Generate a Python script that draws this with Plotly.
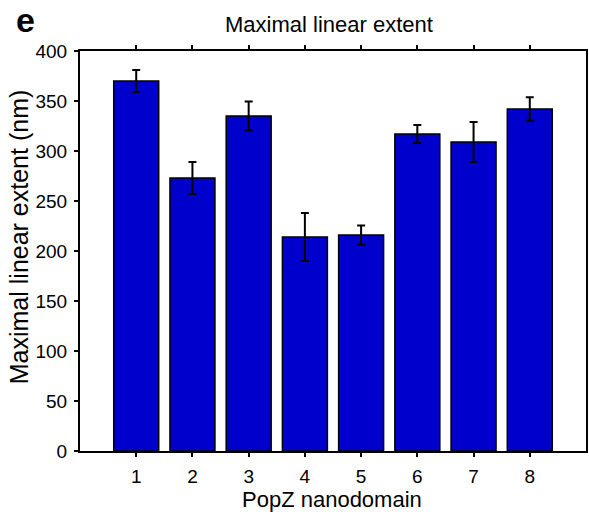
import plotly.graph_objects as go

categories = [1, 2, 3, 4, 5, 6, 7, 8]
values = [370, 273, 335, 214, 216, 317, 309, 342]
errors = [11, 16, 14.5, 24, 9.5, 9, 20, 11.7]
y_ticks = [0, 50, 100, 150, 200, 250, 300, 350, 400]

W, H = 589, 512
L, R, T, B = 80, 1, 51, 61
pw, ph = W - L - R, H - T - B

font = "Liberation Sans, Arial, sans-serif"
TICK = 19
LAB = 22


def px_x(p):
    return (p - L) / pw


def px_y(p):
    return (T + ph - p) / ph


fig = go.Figure()
fig.add_trace(go.Bar(
    x=categories, y=values, width=0.8,
    marker=dict(color="#0000CD", line=dict(color="black", width=1.5)),
    error_y=dict(type="data", array=errors, visible=True,
                 color="black", thickness=2, width=4),
    hoverinfo="skip",
))

fig.update_layout(
    width=W, height=H,
    margin=dict(l=L, r=R, t=T, b=B),
    plot_bgcolor="white", paper_bgcolor="white",
    showlegend=False,
    font=dict(family=font, size=TICK, color="black"),
)
fig.update_xaxes(
    range=[0, 9], tickmode="array", tickvals=categories,
    ticktext=[str(c) for c in categories],
    showline=True, linecolor="black", linewidth=2, mirror="ticks",
    ticks="outside", ticklen=4, tickwidth=2, tickcolor="black",
    ticklabelstandoff=3,
    showgrid=False, zeroline=False,
    tickfont=dict(family=font, size=TICK, color="black"),
)
fig.update_yaxes(
    range=[0, 400], tickmode="array", tickvals=y_ticks,
    ticktext=[str(v) for v in y_ticks],
    showline=True, linecolor="black", linewidth=2, mirror=True,
    ticks="outside", ticklen=4, tickwidth=2, tickcolor="black",
    ticklabelstandoff=3,
    showgrid=False, zeroline=False,
    tickfont=dict(family=font, size=TICK, color="black"),
)

fig.add_annotation(text="Maximal linear extent",
                   xref="paper", yref="paper", x=px_x(330), y=px_y(24),
                   xanchor="center", yanchor="middle", showarrow=False,
                   font=dict(family=font, size=LAB, color="black"))
fig.add_annotation(text="Maximal linear extent (nm)", textangle=-90,
                   xref="paper", yref="paper", x=px_x(19), y=px_y(237),
                   xanchor="center", yanchor="middle", showarrow=False,
                   font=dict(family=font, size=25, color="black"))
fig.add_annotation(text="PopZ nanodomain",
                   xref="paper", yref="paper", x=px_x(333), y=px_y(499),
                   xanchor="center", yanchor="middle", showarrow=False,
                   font=dict(family=font, size=LAB, color="black"))
fig.add_annotation(text="<b>e</b>",
                   xref="paper", yref="paper", x=px_x(25), y=px_y(20),
                   xanchor="center", yanchor="middle", showarrow=False,
                   font=dict(family=font, size=34, color="black"))

fig.write_html(
    "out.html",
    config={"displayModeBar": False},
    post_script="document.body.style.margin='0';document.body.style.overflow='hidden';",
)
